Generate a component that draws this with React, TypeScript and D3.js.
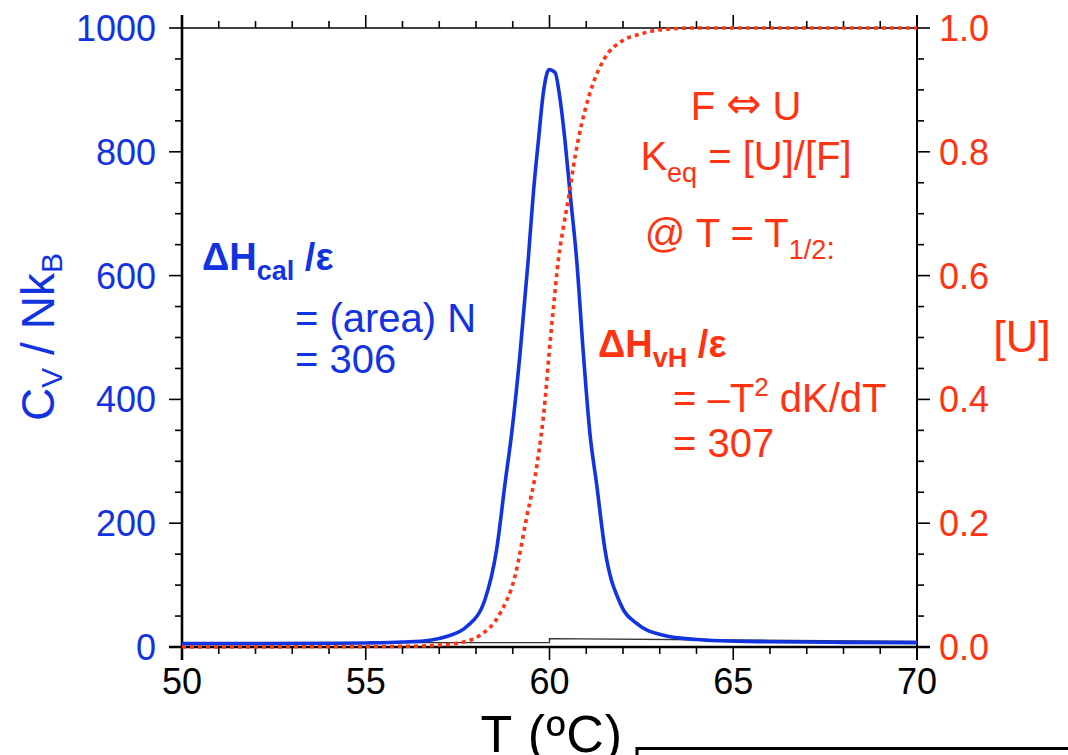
import React from "react";
import * as d3 from "d3";

// ---- data ----
const T_CV = [50, 52, 54, 55, 56, 56.75, 57.2, 57.75, 58.24, 58.56, 58.79, 58.97, 59.2, 59.42, 59.56, 59.7, 59.83, 59.99, 60.15, 60.29, 60.42, 60.56, 60.74, 60.92, 61.1, 61.28, 61.51, 61.92, 62.37, 63.1, 64.0, 64.64, 66, 68, 70];
const CV = [5.5, 5.5, 6, 6.5, 8, 11, 17, 33, 76, 157, 264, 345, 475, 625, 733, 819, 894, 933, 928, 884, 819, 733, 625, 475, 345, 264, 157, 71, 38, 19, 12, 10, 8.5, 7.5, 7];

const T_U = [50, 56, 57, 57.48, 58.11, 58.65, 59.06, 59.38, 59.65, 59.88, 59.99, 60.1, 60.24, 60.38, 60.54, 60.65, 60.78, 60.97, 61.19, 61.47, 62, 62.46, 63, 64, 70];
const U = [0, 0.001, 0.003, 0.006, 0.019, 0.054, 0.114, 0.21, 0.291, 0.399, 0.475, 0.544, 0.625, 0.679, 0.733, 0.776, 0.819, 0.868, 0.911, 0.948, 0.98, 0.99, 0.997, 1, 1];

const T_BASE = [50, 60, 60, 70];
const BASE = [7, 7, 13.5, 9];

const X_TICKS = [50, 55, 60, 65, 70];
const X_MINOR = [51, 52, 53, 54, 56, 57, 58, 59, 61, 62, 63, 64, 66, 67, 68, 69];
const YL_TICKS = [0, 200, 400, 600, 800, 1000];
const YL_MINOR = [50, 100, 150, 250, 300, 350, 450, 500, 550, 650, 700, 750, 850, 900, 950];
const YR_TICKS = [0, 0.2, 0.4, 0.6, 0.8, 1.0];
const YR_MINOR = [0.05, 0.1, 0.15, 0.25, 0.3, 0.35, 0.45, 0.5, 0.55, 0.65, 0.7, 0.75, 0.85, 0.9, 0.95];

const BLUE = "#1234e0";
const RED = "#ff3311";
const FONT = "'Liberation Sans', Arial, Helvetica, sans-serif";

export default function App() {
  const W = 1068, H = 755;
  const x = d3.scaleLinear().domain([50, 70]).range([182, 917]);
  const yL = d3.scaleLinear().domain([0, 1000]).range([647, 28]);
  const yR = d3.scaleLinear().domain([0, 1]).range([647, 28]);
  const x0 = x(50), x1 = x(70), y0 = yL(0), y1 = yL(1000);
  const MAJ = 13, MIN = 7;

  const cvLine = d3.line<number>().x((_, i) => x(T_CV[i])).y((d) => yL(d)).curve(d3.curveMonotoneX);
  const uLine = d3.line<number>().x((_, i) => x(T_U[i])).y((d) => yR(d)).curve(d3.curveMonotoneX);
  const baseLine = d3.line<number>().x((_, i) => x(T_BASE[i])).y((d) => yL(d));

  return (
    <svg width={W} height={H} style={{ position: "absolute", left: 0, top: 0, background: "#fff" }} fontFamily={FONT}>
      {/* axes frame */}
      <line x1={x0} y1={y1} x2={x1} y2={y1} stroke="#000" strokeWidth={1.6} />
      <line x1={x1} y1={y1 - MAJ} x2={x1} y2={y0 + MAJ} stroke="#000" strokeWidth={2} />
      <line x1={x0} y1={y1 - MAJ} x2={x0} y2={y0 + MAJ} stroke="#000" strokeWidth={2.6} />
      <line x1={x0 - MAJ} y1={y0} x2={x1 + MAJ} y2={y0} stroke="#000" strokeWidth={2.6} />

      {/* x ticks bottom & top */}
      {X_TICKS.map((t) => (
        <g key={"xt" + t}>
          <line x1={x(t)} x2={x(t)} y1={y0} y2={y0 + MAJ} stroke="#000" strokeWidth={1.6} />
          <line x1={x(t)} x2={x(t)} y1={y1} y2={y1 - MAJ} stroke="#000" strokeWidth={1.6} />
          <text x={x(t)} y={694} textAnchor="middle" fontSize={36} fill="#000">{t}</text>
        </g>
      ))}
      {X_MINOR.map((t) => (
        <g key={"xm" + t}>
          <line x1={x(t)} x2={x(t)} y1={y0} y2={y0 + MIN} stroke="#000" strokeWidth={1.6} />
          <line x1={x(t)} x2={x(t)} y1={y1} y2={y1 - MIN} stroke="#000" strokeWidth={1.6} />
        </g>
      ))}

      {/* left ticks */}
      {YL_TICKS.map((v) => (
        <g key={"yl" + v}>
          <line x1={x0 - MAJ} x2={x0} y1={yL(v)} y2={yL(v)} stroke="#000" strokeWidth={1.6} />
          <text x={156} y={yL(v)} dy="0.36em" textAnchor="end" fontSize={36} fill={BLUE}>{v}</text>
        </g>
      ))}
      {YL_MINOR.map((v) => (
        <line key={"ylm" + v} x1={x0 - MIN} x2={x0} y1={yL(v)} y2={yL(v)} stroke="#000" strokeWidth={1.6} />
      ))}

      {/* right ticks */}
      {YR_TICKS.map((v) => (
        <g key={"yr" + v}>
          <line x1={x1} x2={x1 + MAJ} y1={yR(v)} y2={yR(v)} stroke="#000" strokeWidth={1.6} />
          <text x={939} y={yR(v)} dy="0.36em" textAnchor="start" fontSize={36} fill={RED}>{v.toFixed(1)}</text>
        </g>
      ))}
      {YR_MINOR.map((v) => (
        <line key={"yrm" + v} x1={x1} x2={x1 + MIN} y1={yR(v)} y2={yR(v)} stroke="#000" strokeWidth={1.6} />
      ))}

      {/* curves */}
      <path d={baseLine(BASE) || ""} fill="none" stroke="#333" strokeWidth={1.4} />
      <path d={cvLine(CV) || ""} fill="none" stroke={BLUE} strokeWidth={3.6} strokeLinejoin="round" />
      <path d={uLine(U) || ""} fill="none" stroke={RED} strokeWidth={3.6} strokeDasharray="4 4" />

      {/* axis titles */}
      <text transform="translate(54,337) rotate(-90)" textAnchor="middle" fontSize={46} fill={BLUE}>
        C<tspan fontSize={30} dy={8}>V</tspan>
        <tspan dy={-8}> / Nk</tspan>
        <tspan fontSize={30} dy={8}>B</tspan>
      </text>
      <text x={623} y={752} textAnchor="end" fontSize={52} fill="#000" letterSpacing={1}>T (ºC)</text>
      <text x={1022} y={352} textAnchor="middle" fontSize={45} fill={RED}>[U]</text>

      {/* blue annotation */}
      <text x={202} y={270} fontSize={38} fontWeight="bold" fill={BLUE}>
        ΔH<tspan fontSize={27} dy={10}>cal</tspan>
        <tspan dy={-10}> /ε</tspan>
      </text>
      <text x={295} y={332} fontSize={40} fill={BLUE}>= (area) N</text>
      <text x={295} y={373} fontSize={40} fill={BLUE}>= 306</text>

      {/* red annotation */}
      <text x={598} y={357} fontSize={38} fontWeight="bold" fill={RED}>
        ΔH<tspan fontSize={27} dy={10}>vH</tspan>
        <tspan dy={-10}> /ε</tspan>
      </text>
      <text x={673} y={412} fontSize={40} fill={RED}>
        = –T<tspan fontSize={26} dy={-16}>2</tspan>
        <tspan dy={16}> dK/dT</tspan>
      </text>
      <text x={673} y={457} fontSize={40} fill={RED}>= 307</text>

      <text x={746} y={120} textAnchor="middle" fontSize={40} fill={RED}>
        F <tspan fontFamily="'DejaVu Sans', sans-serif" fontSize={42} dy={-2}>⇔</tspan><tspan dy={2}> U</tspan>
      </text>
      <text x={746} y={170} textAnchor="middle" fontSize={40} fill={RED}>
        K<tspan fontSize={27} dy={12}>eq</tspan>
        <tspan dy={-12}> = [U]/[F]</tspan>
      </text>
      <text x={740} y={247} textAnchor="middle" fontSize={40} fill={RED}>
        @ T = T<tspan fontSize={27} dy={12}>1/2</tspan>
        <tspan fontSize={32}>:</tspan>
      </text>

      {/* bracket line at bottom right */}
      <path d={`M${637},${H}V${748.5}H${W}`} fill="none" stroke="#000" strokeWidth={3} />
    </svg>
  );
}
